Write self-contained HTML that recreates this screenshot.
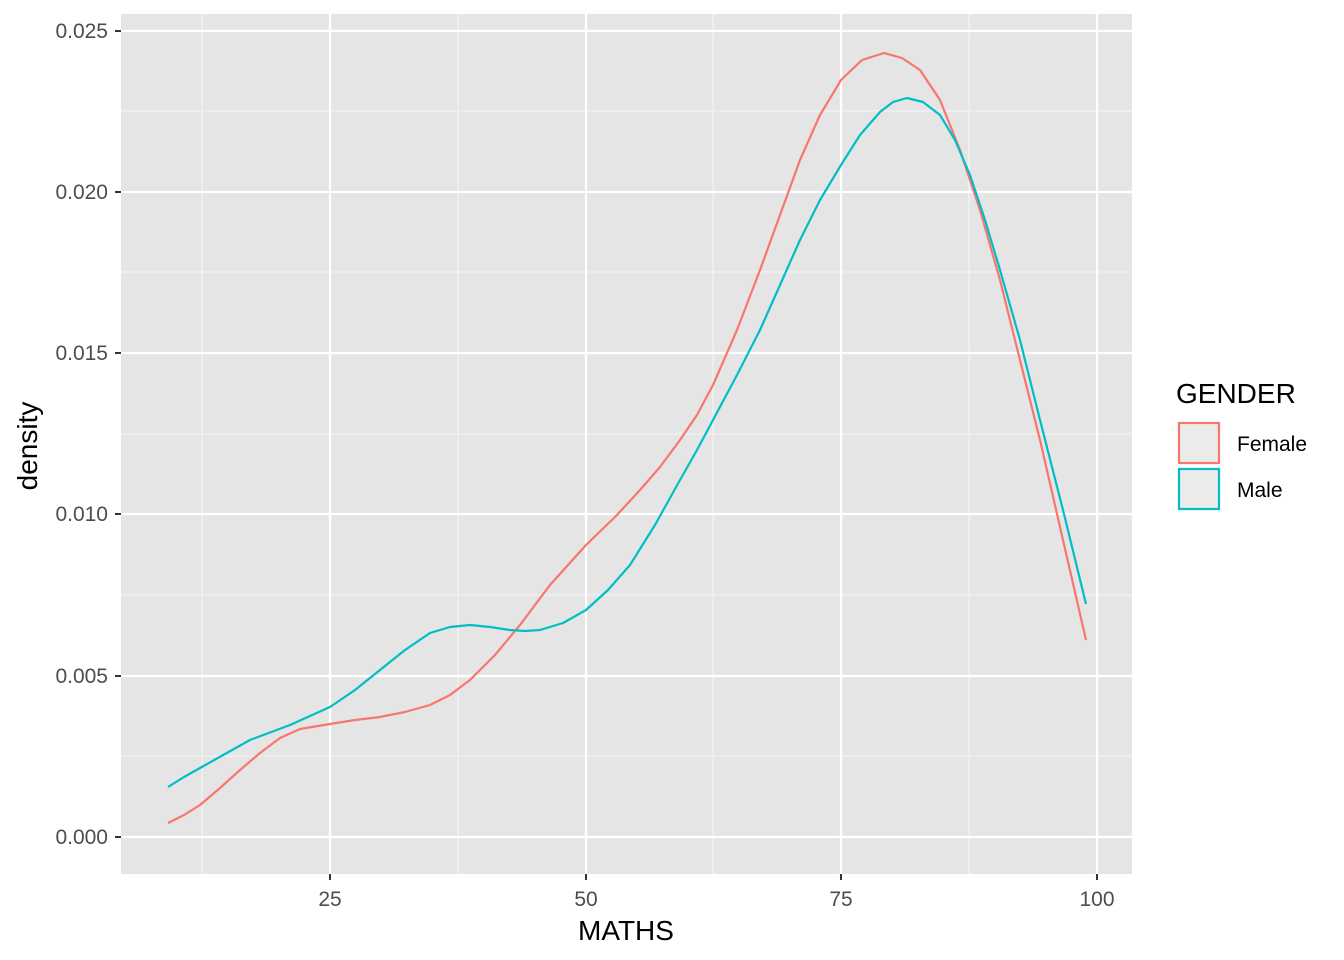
<!DOCTYPE html>
<html><head><style>body{margin:0;background:#fff}svg{display:block;font-family:"Liberation Sans",Arial,sans-serif}</style></head>
<body>
<svg width="1344" height="960" xmlns="http://www.w3.org/2000/svg">
<rect x="121" y="14" width="1011" height="860" fill="#e5e5e5"/>
<g stroke="#f5f5f5" stroke-width="1.1">
<line x1="202" y1="14" x2="202" y2="874"/><line x1="458" y1="14" x2="458" y2="874"/><line x1="713" y1="14" x2="713" y2="874"/><line x1="969" y1="14" x2="969" y2="874"/>
<line x1="121" y1="756" x2="1132" y2="756"/><line x1="121" y1="595" x2="1132" y2="595"/><line x1="121" y1="434" x2="1132" y2="434"/><line x1="121" y1="272" x2="1132" y2="272"/><line x1="121" y1="111" x2="1132" y2="111"/>
</g>
<g stroke="#fff" stroke-width="2.2">
<line x1="330" y1="14" x2="330" y2="874"/><line x1="586" y1="14" x2="586" y2="874"/><line x1="841" y1="14" x2="841" y2="874"/><line x1="1097" y1="14" x2="1097" y2="874"/>
<line x1="121" y1="837" x2="1132" y2="837"/><line x1="121" y1="676" x2="1132" y2="676"/><line x1="121" y1="514" x2="1132" y2="514"/><line x1="121" y1="353" x2="1132" y2="353"/><line x1="121" y1="192" x2="1132" y2="192"/><line x1="121" y1="31" x2="1132" y2="31"/>
</g>
<polyline fill="none" stroke="#F8766D" stroke-width="2.2" stroke-linejoin="round" points="168,823 184,815 200,805 220,788 240,770 260,753 280,738 300,729 330,724 355,720 380,717 405,712 430,705 450,695 470,680 495,655 520,625 550,585 586,545 615,517 640,490 660,467 680,440 697,415 713,385 737,330 760,270 780,215 800,160 820,115 841,80 862,60 884,53 902,58 920,70 940,100 960,150 980,210 1000,280 1020,360 1040,440 1063,540 1086,640"/>
<polyline fill="none" stroke="#00BFC4" stroke-width="2.2" stroke-linejoin="round" points="168,787 184,777 200,768 225,754 250,740 290,725 330,707 355,690 380,670 405,650 430,633 450,627 470,625 490,627 510,630 525,631 540,630 563,623 586,610 608,590 630,565 655,525 680,480 697,450 713,420 737,375 760,330 780,285 800,240 820,200 841,165 860,135 880,112 893,102 907,98 923,102 940,115 955,140 970,175 985,220 1000,270 1020,340 1040,420 1063,510 1086,604"/>
<g stroke="#333" stroke-width="2">
<line x1="115" y1="837" x2="121" y2="837"/><line x1="115" y1="676" x2="121" y2="676"/><line x1="115" y1="514" x2="121" y2="514"/><line x1="115" y1="353" x2="121" y2="353"/><line x1="115" y1="192" x2="121" y2="192"/><line x1="115" y1="31" x2="121" y2="31"/>
<line x1="330" y1="874" x2="330" y2="880"/><line x1="586" y1="874" x2="586" y2="880"/><line x1="841" y1="874" x2="841" y2="880"/><line x1="1097" y1="874" x2="1097" y2="880"/>
</g>
<g fill="#4d4d4d" font-size="21" text-anchor="end">
<text x="108" y="844">0.000</text><text x="108" y="683">0.005</text><text x="108" y="521">0.010</text><text x="108" y="360">0.015</text><text x="108" y="199">0.020</text><text x="108" y="38">0.025</text>
</g>
<g fill="#4d4d4d" font-size="21" text-anchor="middle">
<text x="330" y="906">25</text><text x="586" y="906">50</text><text x="841" y="906">75</text><text x="1097" y="906">100</text>
</g>
<text x="626" y="940" font-size="28" text-anchor="middle">MATHS</text>
<text transform="translate(37,446) rotate(-90)" font-size="28" text-anchor="middle">density</text>
<text x="1176" y="403" font-size="28">GENDER</text>
<rect x="1179" y="423" width="40" height="40" fill="#ebebeb" stroke="#F8766D" stroke-width="2.2"/>
<rect x="1179" y="469" width="40" height="40" fill="#ebebeb" stroke="#00BFC4" stroke-width="2.2"/>
<text x="1237" y="451" font-size="21">Female</text>
<text x="1237" y="497" font-size="21">Male</text>
</svg>
</body></html>
